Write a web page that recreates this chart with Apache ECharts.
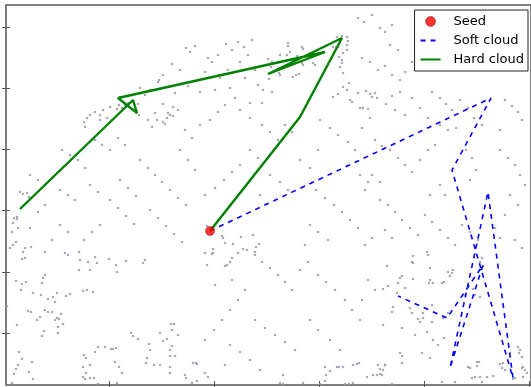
<!DOCTYPE html>
<html>
<head>
<meta charset="utf-8">
<script src="https://cdn.jsdelivr.net/npm/echarts@6/dist/echarts.min.js"></script>
<style>
html,body{margin:0;padding:0;background:#fff;}
#chart{width:531px;height:387px;}
</style>
</head>
<body>
<div id="chart"></div>
<script>
// Background cloud samples (x, y)
const cloudPoints = [
[17,133],[19,127],[16,126],[39,133],[59,132],[62,130],[73,133],[89,128],[91,122],[82,123],[74,125],[73,115],[84,115],[103,126],[110,120],[111,113],[120,124],[137,122],[139,125],
[10,104],[16,101],[20,103],[15,95],[39,110],[37,107],[36,102],[27,92],[35,90],[42,86],[47,88],[51,92],[49,83],[64,91],[60,89],[77,94],[81,95],[87,93],
[1,79],[22,74],[25,73],[39,75],[42,73],[46,73],[34,68],[31,65],[55,71],[51,67],[49,65],[53,66],[57,61],[52,58],[38,54],[36,49],[11,60],[52,52],
[125,52],[127,49],[132,46],[154,52],[161,46],[165,61],[168,61],[166,55],[157,44],[172,50],[143,41],[144,35],[141,27],[140,22],[148,20],[154,20],[164,35],[166,39],[164,29],[169,29],[164,18],[164,12],
[92,38],[99,38],[105,36],[107,36],[110,37],[89,33],[78,30],[80,27],[77,18],[84,20],[109,23],[113,18],[116,12],[80,12],[77,8],[79,6],[84,7],[88,7],[92,1],[111,2],
[13,33],[16,26],[12,20],[10,16],[8,11],[26,23],[23,13],[27,6],[6,2],
[407,129],[421,133],[422,130],[406,123],[407,122],[381,119],[424,117],[442,113],[446,112],[447,115],[444,109],[396,109],[394,107],[392,102],[407,106],[424,105],[427,102],[423,102],[436,102],[438,103],
[382,99],[391,92],[377,96],[399,97],[467,96],[477,119],[476,127],[474,123],[469,90],[459,90],[474,88],[387,78],[386,73],[404,77],[406,72],[426,80],[417,72],[412,66],[417,67],[414,63],[426,63],[437,67],[442,72],
[396,57],[377,60],[421,53],[409,50],[427,45],[438,47],[432,40],[416,32],[394,32],[396,29],[424,27],[396,22],[379,20],[377,15],[376,10],[471,23],[462,18],[464,17],
[512,38],[514,35],[513,32],[516,28],[516,17],[519,15],[521,12],[497,22],[496,17],[499,15],[504,32],[469,8],[466,7],[474,8],[481,8],[487,9],[436,3],[449,3],[386,1],
[201,159],[216,149],[217,147],[219,142],[227,141],[235,148],[247,150],[253,141],[250,138],[249,133],[249,130],[241,135],[237,136],[232,132],[226,127],[224,123],[221,120],[219,119],[207,132],[206,131],[199,132],[207,136],[201,120],
[331,348],[336,349],[341,348],[342,344],[341,340],[341,335],[337,332],[332,338],[330,338],[327,338],[282,342],[282,339],[296,338],[297,336],[284,333],[281,330],[274,330],[291,329],[309,320],[307,322],[296,322],[297,320],
[262,326],[266,323],[267,322],[265,318],[273,312],[274,310],[287,308],[290,310],[293,311],[263,306],[257,295],[266,293],[333,328],[336,325],[336,322],[334,318],[337,312],[343,302],[337,298],[341,295],[332,291],[327,288],[344,285],[346,283],
[352,292],[360,294],[364,291],[366,288],[369,292],[371,287],[362,276],[357,277],[354,277],[256,282],
[157,310],[153,305],[152,303],[169,292],[157,281],[167,278],[172,275],[162,272],[164,270],[167,269],[161,267],[104,278],[111,276],[97,275],[89,273],[94,270],[84,270],[81,267],[78,263],[79,258],[94,265],[101,267],[106,265],
[113,280],[116,277],[119,280],[122,282],[132,281],[133,270],[142,265],[149,272],[151,265],[157,263],[159,261],[146,258],
[14,193],[17,191],[21,192],[23,188],[11,168],[8,167],[11,166],[7,162],[6,153],[12,157],[24,157],[10,143],[7,140],[4,137],[19,137],[25,138],
[473,23],[471,19],[494,21],[517,18],[509,7],[507,6],[517,8],[476,3],
[179,10],[180,7],[186,2],[191,4],[187,22],[190,22],[191,21],[199,12],[202,8],[274,2],[277,1],[277,10],[297,2],[314,1],[319,4],[324,14],[320,10],[319,18],[331,18],[333,18],[337,18],[347,20],[351,21],[353,22],[339,1],[343,1],[347,2],[361,8],[367,10],[372,20],[374,16],[371,10],[374,11],[379,20],
[180,337],[184,333],[189,339],[202,327],[206,323],[212,330],[220,341],[226,335],[232,343],[238,338],[242,330],[246,345],[234,323],[222,315],[214,307],[199,313],[192,305],[182,299],[174,315],[166,321],[144,295],[139,290],[134,297],[194,293],[209,295],[224,297],[239,307],[249,315],[252,300],[229,287],[244,282],
[352,367],[358,363],[366,370],[374,357],[379,353],[386,360],[356,327],[364,323],[372,315],[379,319],[386,310],[394,305],[399,313],[406,323],[412,330],[392,335],[384,340],
[426,293],[434,287],[440,281],[446,275],[454,285],[462,277],[468,267],[476,260],[499,285],[506,279],[512,273],[516,265],[494,255],[434,260],[442,255],[450,257],[422,267],[414,277],[406,287],[394,293],[386,289],[380,281],[389,275],[399,270],
[369,245],[376,239],[384,235],[392,227],[399,220],[406,213],[414,225],[422,235],[429,240],[460,235],[466,227],[470,215],[464,205],[494,235],[502,227],[509,220],[514,210],[519,200],[504,190],[512,180],[499,170],[374,185],[382,180],[389,173],[396,165],[404,157],[412,150],[379,155],[386,147],[419,170],[426,163],[434,155],[442,147],[449,140],[456,160],[464,153],[472,145],[489,157],[494,147],[509,145],[516,137],[366,210],[374,203],[359,195],[434,200],[439,190],[424,190],
[179,255],[186,247],[194,260],[204,265],[212,273],[219,280],[234,275],[244,267],[256,260],[264,253],[272,245],[279,260],[286,253],[244,235],[252,227],[234,220],[226,213],[218,205],[209,197],[199,190],[189,215],[182,225],[174,235],[264,210],[274,203],[282,195],[254,190],[294,225],[304,217],[312,235],
[314,265],[324,257],[332,250],[342,243],[349,235],[356,257],[364,267],[310,195],[319,187],[328,180],[336,173],[344,165],[352,157],[304,160],[312,153],[322,145],[299,140],[359,140],[366,147],[354,210],[362,203],
[256,123],[264,117],[272,110],[279,103],[286,95],[294,115],[302,123],[312,110],[320,103],[329,95],[339,85],[346,75],[354,65],[239,95],[232,85],[224,75],[216,65],[208,55],[199,45],[249,65],[259,57],[269,50],[279,43],[289,35],[304,65],[312,55],[324,45],[334,35],[226,105],[209,100],[362,105],[369,95],[356,85],
[24,210],[32,205],[39,200],[46,207],[54,195],[62,190],[69,185],[56,235],[64,230],[72,225],[79,217],[89,245],[96,240],[104,235],[112,247],[119,240],[134,225],[142,217],[149,210],[156,203],[164,195],[172,187],[180,180],[144,175],[152,167],[160,159],[168,151],[176,143],[104,185],[112,177],[120,169],[128,161],[94,160],[86,153],[78,145],[54,160],[62,153],[46,145],[39,180],[32,173],[114,205],[122,197],[130,189],[84,200],[92,193],
[224,40],[234,33],[244,25],[254,15],[219,20]
];

// Starting point shared by both paths
const seedPoint = [[204,154]];

// Walk of the soft cloud (dashed)
const softPath = [[204,154],[485,287],[446,215],[507,7],[482,193],[444,17],[477,120],[441,67],[392,89]];

// Walk of the hard cloud (solid)
const hardPath = [[204,154],[294,268],[336,347],[262,311],[319,333],[112,287],[131,272],[127,285],[14,176]];

// Tick positions on the frame
const xTicks = [103,208,313,418,523];
const yTicks = [52,113,175,236,297,358];

const chart = echarts.init(document.getElementById('chart'), null, {renderer:'canvas'});

function axisBase(ticks, pos, extra) {
  return Object.assign({
    type:'value', position:pos,
    axisLine:{show:false},
    axisLabel:{show:false},
    splitLine:{show:false},
    axisTick:{show:true, inside:true, length:4, customValues:ticks, lineStyle:{color:'#555', width:1}}
  }, extra);
}

const hidden = {color:'rgba(0,0,0,0)', borderWidth:0};

chart.setOption({
  animation:false,
  backgroundColor:'#fff',
  grid:{left:6, top:5, right:0, bottom:2, show:true, borderColor:'#555', borderWidth:1.5, backgroundColor:'#fff'},
  xAxis:[
    axisBase(xTicks,'bottom',{min:0,max:525}),
    axisBase(xTicks,'top',{min:0,max:525})
  ],
  yAxis:[
    axisBase(yTicks,'left',{min:0,max:380}),
    axisBase(yTicks,'right',{min:0,max:380})
  ],
  legend:{
    orient:'vertical', right:3, top:10,
    backgroundColor:'#fff',
    borderColor:'#222', borderWidth:1, borderRadius:0,
    padding:[4,4,4,5], itemGap:4, itemWidth:20, itemHeight:10,
    textStyle:{fontFamily:'DejaVu Sans', fontSize:13, lineHeight:15, color:'#000', padding:[0,0,0,8]},
    data:[
      {name:'Seed', icon:'circle', itemStyle:{color:'#ff0000', borderColor:'#550000', borderWidth:0.5}},
      {name:'Soft cloud', itemStyle:hidden},
      {name:'Hard cloud', itemStyle:hidden}
    ]
  },
  series:[
    {
      name:'cloud', type:'scatter', data:cloudPoints, symbolSize:2.6,
      itemStyle:{color:'#9b9bab', opacity:0.85}, silent:true, z:1
    },
    {
      name:'Soft cloud', type:'line', data:softPath, symbol:'none',
      lineStyle:{color:'#0000ff', width:1.6, type:[5,5]}, itemStyle:{color:'#0000ff'}, z:3
    },
    {
      name:'Hard cloud', type:'line', data:hardPath, symbol:'none',
      lineStyle:{color:'#008000', width:2.4}, itemStyle:{color:'#008000'}, z:4
    },
    {
      name:'Seed', type:'scatter', data:seedPoint, symbolSize:9,
      itemStyle:{color:'#ff0000', borderColor:'#550000', borderWidth:0.5}, z:5
    }
  ]
});
</script>
</body>
</html>
